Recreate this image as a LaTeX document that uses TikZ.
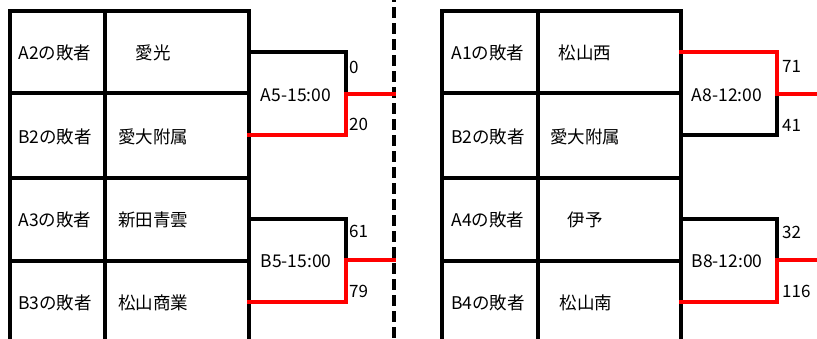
\documentclass[tikz,border=0pt]{standalone}
\usepackage{fontspec}
\setmainfont{Noto Sans CJK JP}
\begin{document}
\begin{tikzpicture}[x=1pt,y=-1pt,
  tbl/.style={line width=3.5pt, black, line cap=rect},
  lose/.style={line width=3.5pt, black, line cap=rect},
  win/.style={line width=3.5pt, red, line cap=rect},
  sep/.style={line width=3.5pt, black, dash pattern=on 11.3pt off 4.7pt, dash phase=9pt},
  lbl/.style={font=\fontsize{17.5}{20}\selectfont, inner sep=0pt, anchor=center},
  score/.style={font=\fontsize{17}{20}\selectfont, inner sep=0pt, anchor=west}]
\useasboundingbox (0,0) rectangle (817,338);

% ---------- left table ----------
\draw[tbl] (10,338) -- (10,11) -- (249,11) -- (249,338);
\draw[tbl] (105,11) -- (105,338);
\foreach \yy in {93,178,261} \draw[tbl] (10,\yy) -- (249,\yy);

\node[lbl] (la1) at (55,53) {A2の敗者};
\node[lbl] (lt1) at (153,53) {愛光};
\node[lbl] (la2) at (55,137) {B2の敗者};
\node[lbl] (lt2) at (153,137) {愛大附属};
\node[lbl] (la3) at (55,220) {A3の敗者};
\node[lbl] (lt3) at (153,220) {新田青雲};
\node[lbl] (la4) at (55,303) {B3の敗者};
\node[lbl] (lt4) at (153,303) {松山商業};

% ---------- right table ----------
\draw[tbl] (442,338) -- (442,11) -- (681,11) -- (681,338);
\draw[tbl] (538,11) -- (538,338);
\foreach \yy in {93,178,261} \draw[tbl] (442,\yy) -- (681,\yy);

\node[lbl] (ra1) at (488,53) {A1の敗者};
\node[lbl] (rt1) at (585,53) {松山西};
\node[lbl] (ra2) at (488,137) {B2の敗者};
\node[lbl] (rt2) at (585,137) {愛大附属};
\node[lbl] (ra3) at (488,220) {A4の敗者};
\node[lbl] (rt3) at (585,220) {伊予};
\node[lbl] (ra4) at (488,303) {B4の敗者};
\node[lbl] (rt4) at (586,303) {松山南};

% ---------- separator ----------
\coordinate (septop) at (394,0);
\coordinate (sepbot) at (394,338);
\draw[sep] (septop) -- (sepbot);

% ---------- brackets: left ----------
\coordinate (l1a) at (249,52);  \coordinate (l1k) at (346,94);
\coordinate (l1b) at (249,135); \coordinate (l1o) at (394,94);
\draw[lose] (l1a) -| (l1k);
\draw[win] (l1b) -| (l1k) -- (l1o);
\node[lbl] (m1) at (296,95) {A5-15:00};
\node[score] (s1a) at (349,67) {0};
\node[score] (s1b) at (349,124) {20};

\coordinate (l2a) at (249,219); \coordinate (l2k) at (346,260);
\coordinate (l2b) at (249,302); \coordinate (l2o) at (394,260);
\draw[lose] (l2a) -| (l2k);
\draw[win] (l2b) -| (l2k) -- (l2o);
\node[lbl] (m2) at (296,261) {B5-15:00};
\node[score] (s2a) at (349,231) {61};
\node[score] (s2b) at (349,291) {79};

% ---------- brackets: right ----------
\coordinate (r1a) at (681,52);  \coordinate (r1k) at (777,94);
\coordinate (r1b) at (681,135); \coordinate (r1o) at (817,94);
\draw[lose] (r1b) -| (r1k);
\draw[win] (r1a) -| (r1k) -- (r1o);
\node[lbl] (m3) at (727,95) {A8-12:00};
\node[score] (s3a) at (782,66) {71};
\node[score] (s3b) at (782,125) {41};

\coordinate (r2a) at (681,219); \coordinate (r2k) at (777,260);
\coordinate (r2b) at (681,302); \coordinate (r2o) at (817,260);
\draw[lose] (r2a) -| (r2k);
\draw[win] (r2b) -| (r2k) -- (r2o);
\node[lbl] (m4) at (727,261) {B8-12:00};
\node[score] (s4a) at (782,232) {32};
\node[score] (s4b) at (782,291) {116};
\end{tikzpicture}
\end{document}
